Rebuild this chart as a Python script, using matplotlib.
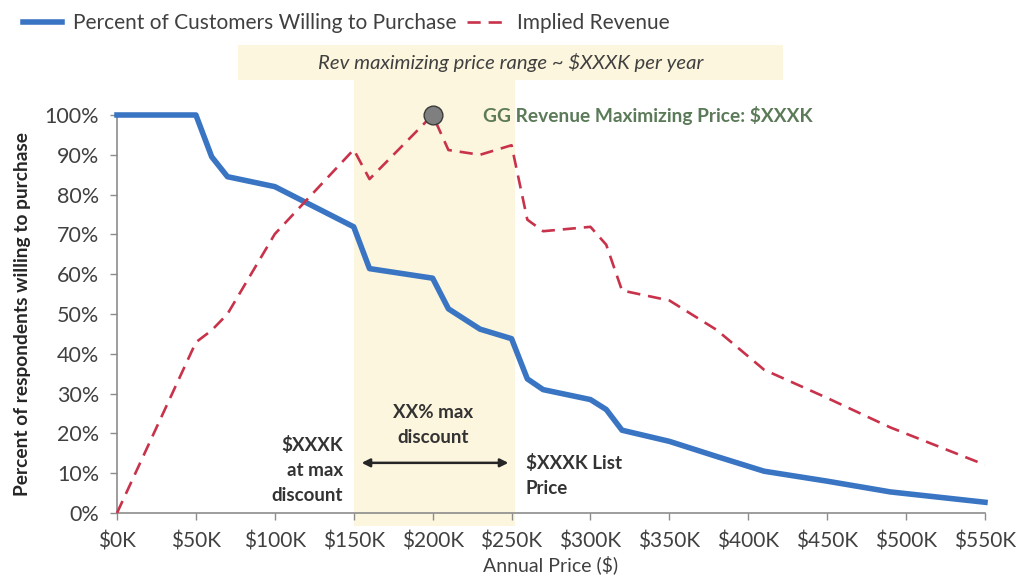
import matplotlib
matplotlib.use("Agg")
import matplotlib.pyplot as plt
from matplotlib.patches import Rectangle
from matplotlib.lines import Line2D

# ---- data ----
price_k = [0, 50, 60, 70, 100, 150, 160, 200, 210, 230, 250, 260, 270, 300,
           310, 320, 350, 380, 410, 450, 490, 550]
pct_willing = [100, 100, 89.5, 84.5, 82.0, 71.9, 61.4, 59.0, 51.3, 46.2, 43.8,
               33.7, 31.0, 28.5, 26.0, 20.8, 18.0, 14.2, 10.5, 8.0, 5.3, 2.7]
implied_revenue = [0, 42.9, 45.9, 50.0, 70.1, 91.3, 83.9, 100, 91.2, 90.0, 92.4,
                   73.7, 70.8, 71.9, 67.4, 55.9, 53.4, 46.0, 36.0, 28.9, 21.5, 12.1]
x_ticks = [0, 50, 100, 150, 200, 250, 300, 350, 400, 450, 500, 550]
x_tick_labels = ["$0K", "$50K", "$100K", "$150K", "$200K", "$250K", "$300K",
                 "$350K", "$400K", "$450K", "$500K", "$550K"]
y_ticks = [0, 10, 20, 30, 40, 50, 60, 70, 80, 90, 100]
y_tick_labels = [f"{v}%" for v in y_ticks]
band_range = [150, 252]          # rev-maximizing price range (K$)
top_box_range = [76.7, 422]      # header box extent (K$)

FONT = "Lato"
plt.rcParams["font.family"] = [FONT, "DejaVu Sans"]
TXT = "#404040"
BLUE = "#3A75C4"
RED = "#C8324A"
BAND = "#FDF6DE"
GREEN = "#5B7A58"
SPINE = "#8C8C8C"
DASH = (0, (5, 3))

fig = plt.figure(figsize=(10.24, 5.84), dpi=100)
ax = fig.add_axes([117/1024, 1-513/584, (985-117)/1024, (513-115)/584])

# shaded band and header box (extend outside the axes)
ax.add_patch(Rectangle((band_range[0], -3.3), band_range[1]-band_range[0], 112.1,
                       facecolor=BAND, edgecolor="none", clip_on=False, zorder=0))
ax.add_patch(Rectangle((top_box_range[0], 108.8), top_box_range[1]-top_box_range[0], 8.8,
                       facecolor=BAND, edgecolor="none", clip_on=False, zorder=0))
ax.text(sum(top_box_range)/2, 113.2, "Rev maximizing price range ~ $XXXK per year",
        ha="center", va="center", fontsize=14.6, style="italic", color=TXT, zorder=3)

ax.plot(price_k, pct_willing, color=BLUE, lw=4.0, solid_joinstyle="round",
        clip_on=False, zorder=3, label="Percent of Customers Willing to Purchase")
ax.plot(price_k, implied_revenue, color=RED, lw=1.9, linestyle=DASH,
        clip_on=False, zorder=3, label="Implied Revenue")

imax = implied_revenue.index(max(implied_revenue))
ax.plot([price_k[imax]], [implied_revenue[imax]], "o", ms=13.5, mfc="#7F7F7F",
        mec="#3A3A3A", mew=1.0, clip_on=False, zorder=4)
ax.text(232, 100, "GG Revenue Maximizing Price: $XXXK", ha="left", va="center",
        fontsize=13.8, fontweight="bold", color=GREEN, zorder=4)

# discount annotations
ax.annotate("", xy=(248, 12.6), xytext=(155, 12.6),
            arrowprops=dict(arrowstyle="<|-|>", color="#262626", lw=1.8,
                            mutation_scale=12, shrinkA=0, shrinkB=0), zorder=4)
ax.text(200.5, 22.1, "XX% max\ndiscount", ha="center", va="center", fontsize=13.5,
        fontweight="bold", color="#333333", linespacing=1.55, zorder=4)
ax.text(143, 10.8, "$XXXK\nat max\ndiscount", ha="right", va="center", fontsize=13.5,
        fontweight="bold", color="#333333", linespacing=1.55, zorder=4)
ax.text(259, 9.4, "$XXXK List\nPrice", ha="left", va="center", fontsize=13.5,
        fontweight="bold", color="#333333", linespacing=1.55, zorder=4)

ax.set_xlim(0, 550)
ax.set_ylim(0, 100)
ax.set_xticks(x_ticks)
ax.set_xticklabels(x_tick_labels)
ax.set_yticks(y_ticks)
ax.set_yticklabels(y_tick_labels)
ax.tick_params(axis="both", direction="out", length=5, width=1, color=SPINE,
               labelcolor=TXT, labelsize=15)
ax.tick_params(axis="x", pad=8)
ax.tick_params(axis="y", pad=8, labelsize=15.5)
for s in ["top", "right"]:
    ax.spines[s].set_visible(False)
for s in ["left", "bottom"]:
    ax.spines[s].set_color(SPINE)
    ax.spines[s].set_linewidth(1.2)
ax.set_facecolor("none")

ax.set_xlabel("Annual Price ($)", fontsize=14, color=TXT, labelpad=3)
ax.set_ylabel("Percent of respondents willing to purchase", fontsize=13.8,
              fontweight="bold", color="#262626", labelpad=10)

handles = [Line2D([], [], color=BLUE, lw=4.0),
           Line2D([], [], color=RED, lw=1.9, linestyle=DASH)]
fig.legend(handles, ["Percent of Customers Willing to Purchase", "Implied Revenue"],
           loc="upper left", bbox_to_anchor=(0.004, 1.01), ncol=2, frameon=False,
           fontsize=15.0, handlelength=1.9, columnspacing=0.5, handletextpad=0.5,
           labelcolor=TXT)

fig.savefig("out.png", dpi=100, facecolor="white")
